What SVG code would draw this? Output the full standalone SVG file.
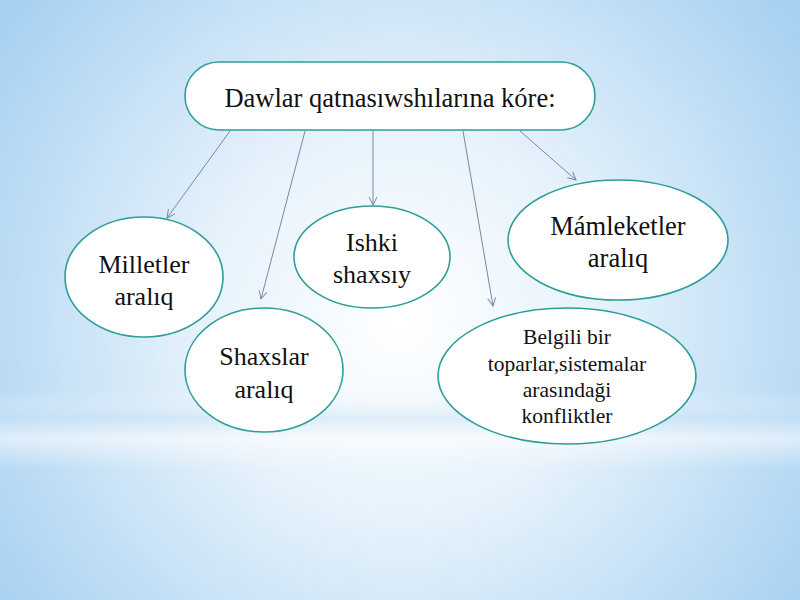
<svg xmlns="http://www.w3.org/2000/svg" width="800" height="600" viewBox="0 0 800 600">
<defs>
<radialGradient id="bg" cx="400" cy="320" r="500" gradientUnits="userSpaceOnUse">
<stop offset="0" stop-color="#ffffff"/>
<stop offset="0.4" stop-color="#e6f2fb"/>
<stop offset="1" stop-color="#a6d0f1"/>
</radialGradient>
<linearGradient id="band" x1="0" y1="0" x2="0" y2="1">
<stop offset="0" stop-color="#ffffff" stop-opacity="0"/>
<stop offset="0.35" stop-color="#c9e2f5" stop-opacity="0.5"/>
<stop offset="0.6" stop-color="#ffffff" stop-opacity="0.55"/>
<stop offset="1" stop-color="#ffffff" stop-opacity="0"/>
</linearGradient>
<marker id="arr" markerWidth="10" markerHeight="10" refX="9" refY="5" orient="auto" markerUnits="userSpaceOnUse">
<path d="M1,1 L9,5 L1,9" fill="none" stroke="#7a86a8" stroke-width="1"/>
</marker>
</defs>
<style>
.node{fill:#ffffff;stroke:#2e9e98;stroke-width:1.6}
.t{font-family:"Liberation Serif","Times New Roman",serif;fill:#111111;text-anchor:middle}
.c{stroke:#7a86a8;stroke-width:1;fill:none;marker-end:url(#arr)}
</style>
<rect width="800" height="600" fill="url(#bg)"/>
<rect x="0" y="390" width="800" height="80" fill="url(#band)"/>
<g id="connectors">
<line class="c" x1="230" y1="131" x2="167" y2="218"/>
<line class="c" x1="305" y1="131" x2="261" y2="299"/>
<line class="c" x1="373" y1="131" x2="373" y2="205"/>
<line class="c" x1="463" y1="131" x2="493" y2="306"/>
<line class="c" x1="520" y1="131" x2="576" y2="180"/>
</g>
<g id="root">
<rect class="node" x="185" y="62" width="410" height="68" rx="34" ry="34"/>
<text class="t" x="390" y="107" font-size="26.5">Dawlar qatnasıwshılarına kóre:</text>
</g>
<g id="milletler">
<ellipse class="node" cx="144" cy="277" rx="79" ry="60"/>
<text class="t" x="144" y="273" font-size="26">Milletler</text>
<text class="t" x="144" y="305" font-size="26">aralıq</text>
</g>
<g id="shaxslar">
<ellipse class="node" cx="264" cy="370" rx="79" ry="62"/>
<text class="t" x="264" y="365" font-size="26">Shaxslar</text>
<text class="t" x="264" y="398" font-size="26">aralıq</text>
</g>
<g id="ishki">
<ellipse class="node" cx="372" cy="257" rx="78" ry="51"/>
<text class="t" x="372" y="251" font-size="26">Ishki</text>
<text class="t" x="372" y="283" font-size="26">shaxsıy</text>
</g>
<g id="mamleketler">
<ellipse class="node" cx="618" cy="240" rx="110" ry="60"/>
<text class="t" x="618" y="235" font-size="26.5">Mámleketler</text>
<text class="t" x="618" y="267" font-size="26.5">aralıq</text>
</g>
<g id="belgili">
<ellipse class="node" cx="567" cy="376" rx="129" ry="68"/>
<text class="t" x="567" y="344" font-size="21.5">Belgili bir</text>
<text class="t" x="567" y="371" font-size="21.5">toparlar,sistemalar</text>
<text class="t" x="567" y="397" font-size="21.5">arasındaği</text>
<text class="t" x="567" y="423" font-size="21.5">konfliktler</text>
</g>
</svg>
